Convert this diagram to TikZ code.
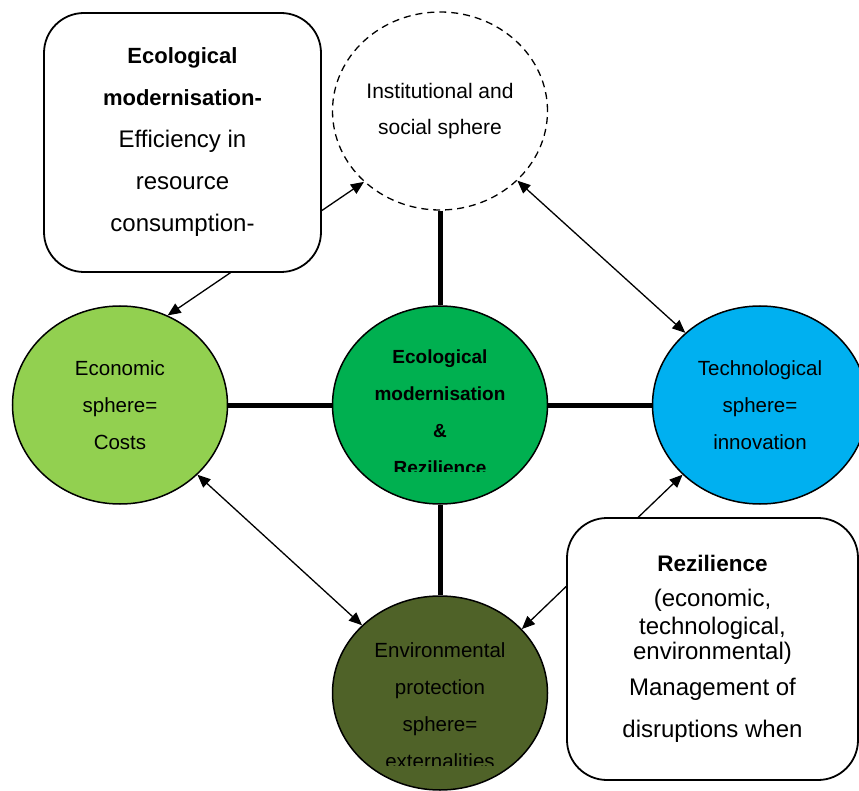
\documentclass[tikz,border=0pt]{standalone}
\usepackage{fontspec}
\setmainfont{Liberation Sans}
\usetikzlibrary{shapes.geometric,arrows.meta}
\definecolor{econgreen}{HTML}{92D050}
\definecolor{coregreen}{HTML}{00B050}
\definecolor{techblue}{HTML}{00B0F0}
\definecolor{envgreen}{HTML}{4F6228}
\begin{document}
\begin{tikzpicture}[x=1pt,y=-1pt,
  >={Triangle[length=13pt,width=11pt]},
  sphere/.style={ellipse, draw=black, line width=1.5pt, inner sep=0pt,
    minimum width=215pt, minimum height=198pt, align=center,
    font=\fontsize{20.5}{37}\selectfont},
  link/.style={line width=5pt},
  rel/.style={<->, line width=1.3pt},
  note/.style={draw=black, fill=white, line width=1.8pt, rounded corners=40pt,
    inner sep=0pt, align=center},
  cliptext/.style={align=center, inner sep=0pt}]
\useasboundingbox (0,0) rectangle (859,791);

% spheres
\node[sphere, fill=white, dash pattern=on 7pt off 5pt, line width=1.3pt,
  font=\fontsize{21}{36}\selectfont] (inst) at (440,111) {Institutional and\\social sphere};
\node[sphere, fill=econgreen] (econ) at (120,405) {Economic\\sphere=\\Costs};
\node[sphere, fill=coregreen] (core) at (440,405) {};
\node[sphere, fill=techblue] (tech) at (760,405) {Technological\\sphere=\\innovation};
\node[sphere, fill=envgreen, minimum height=194pt] (env) at (440,693) {};

% clipped texts in the core and environmental spheres
\begin{scope}
  \clip (330,300) rectangle (550,471);
  \node[cliptext, font=\bfseries\fontsize{19}{37}\selectfont] (coretext) at (440,412)
    {Ecological\\modernisation\\\&\\Rezilience};
\end{scope}
\begin{scope}
  \clip (330,600) rectangle (550,765);
  \node[cliptext, font=\fontsize{20.5}{37}\selectfont] (envtext) at (440,706)
    {Environmental\\protection\\sphere=\\externalities};
\end{scope}

% thick links
\draw[link] (inst.south) -- (core.north);
\draw[link] (econ.east) -- (core.west);
\draw[link] (core.east) -- (tech.west);
\draw[link] (core.south) -- (env.north);

% relation arrows
\draw[rel] (econ.62) -- (inst.-137);
\draw[rel] (inst.-42) -- (tech.136);
\draw[rel] (econ.-42) -- (env.139);
\draw[rel] (tech.-138) -- (env.38);

% text boxes on top
\node[note, minimum width=277pt, minimum height=259pt,
  font=\fontsize{24}{42}\selectfont] (ecobox) at (182.5,142.5)
  {{\bfseries\fontsize{22}{42}\selectfont Ecological}\\
   {\bfseries\fontsize{22}{42}\selectfont modernisation-}\\
   Efficiency in\\resource\\consumption-};
\node[note, minimum width=291pt, minimum height=262pt,
  font=\fontsize{24}{26}\selectfont] (rezbox) at (712.5,649)
  {{\bfseries\fontsize{22.5}{26}\selectfont Rezilience}\\[9pt]
   (economic,\\[2pt]
   technological,\\[-1pt]
   environmental)\\[10pt]
   Management of\\[16pt]
   disruptions when};
\end{tikzpicture}
\end{document}
